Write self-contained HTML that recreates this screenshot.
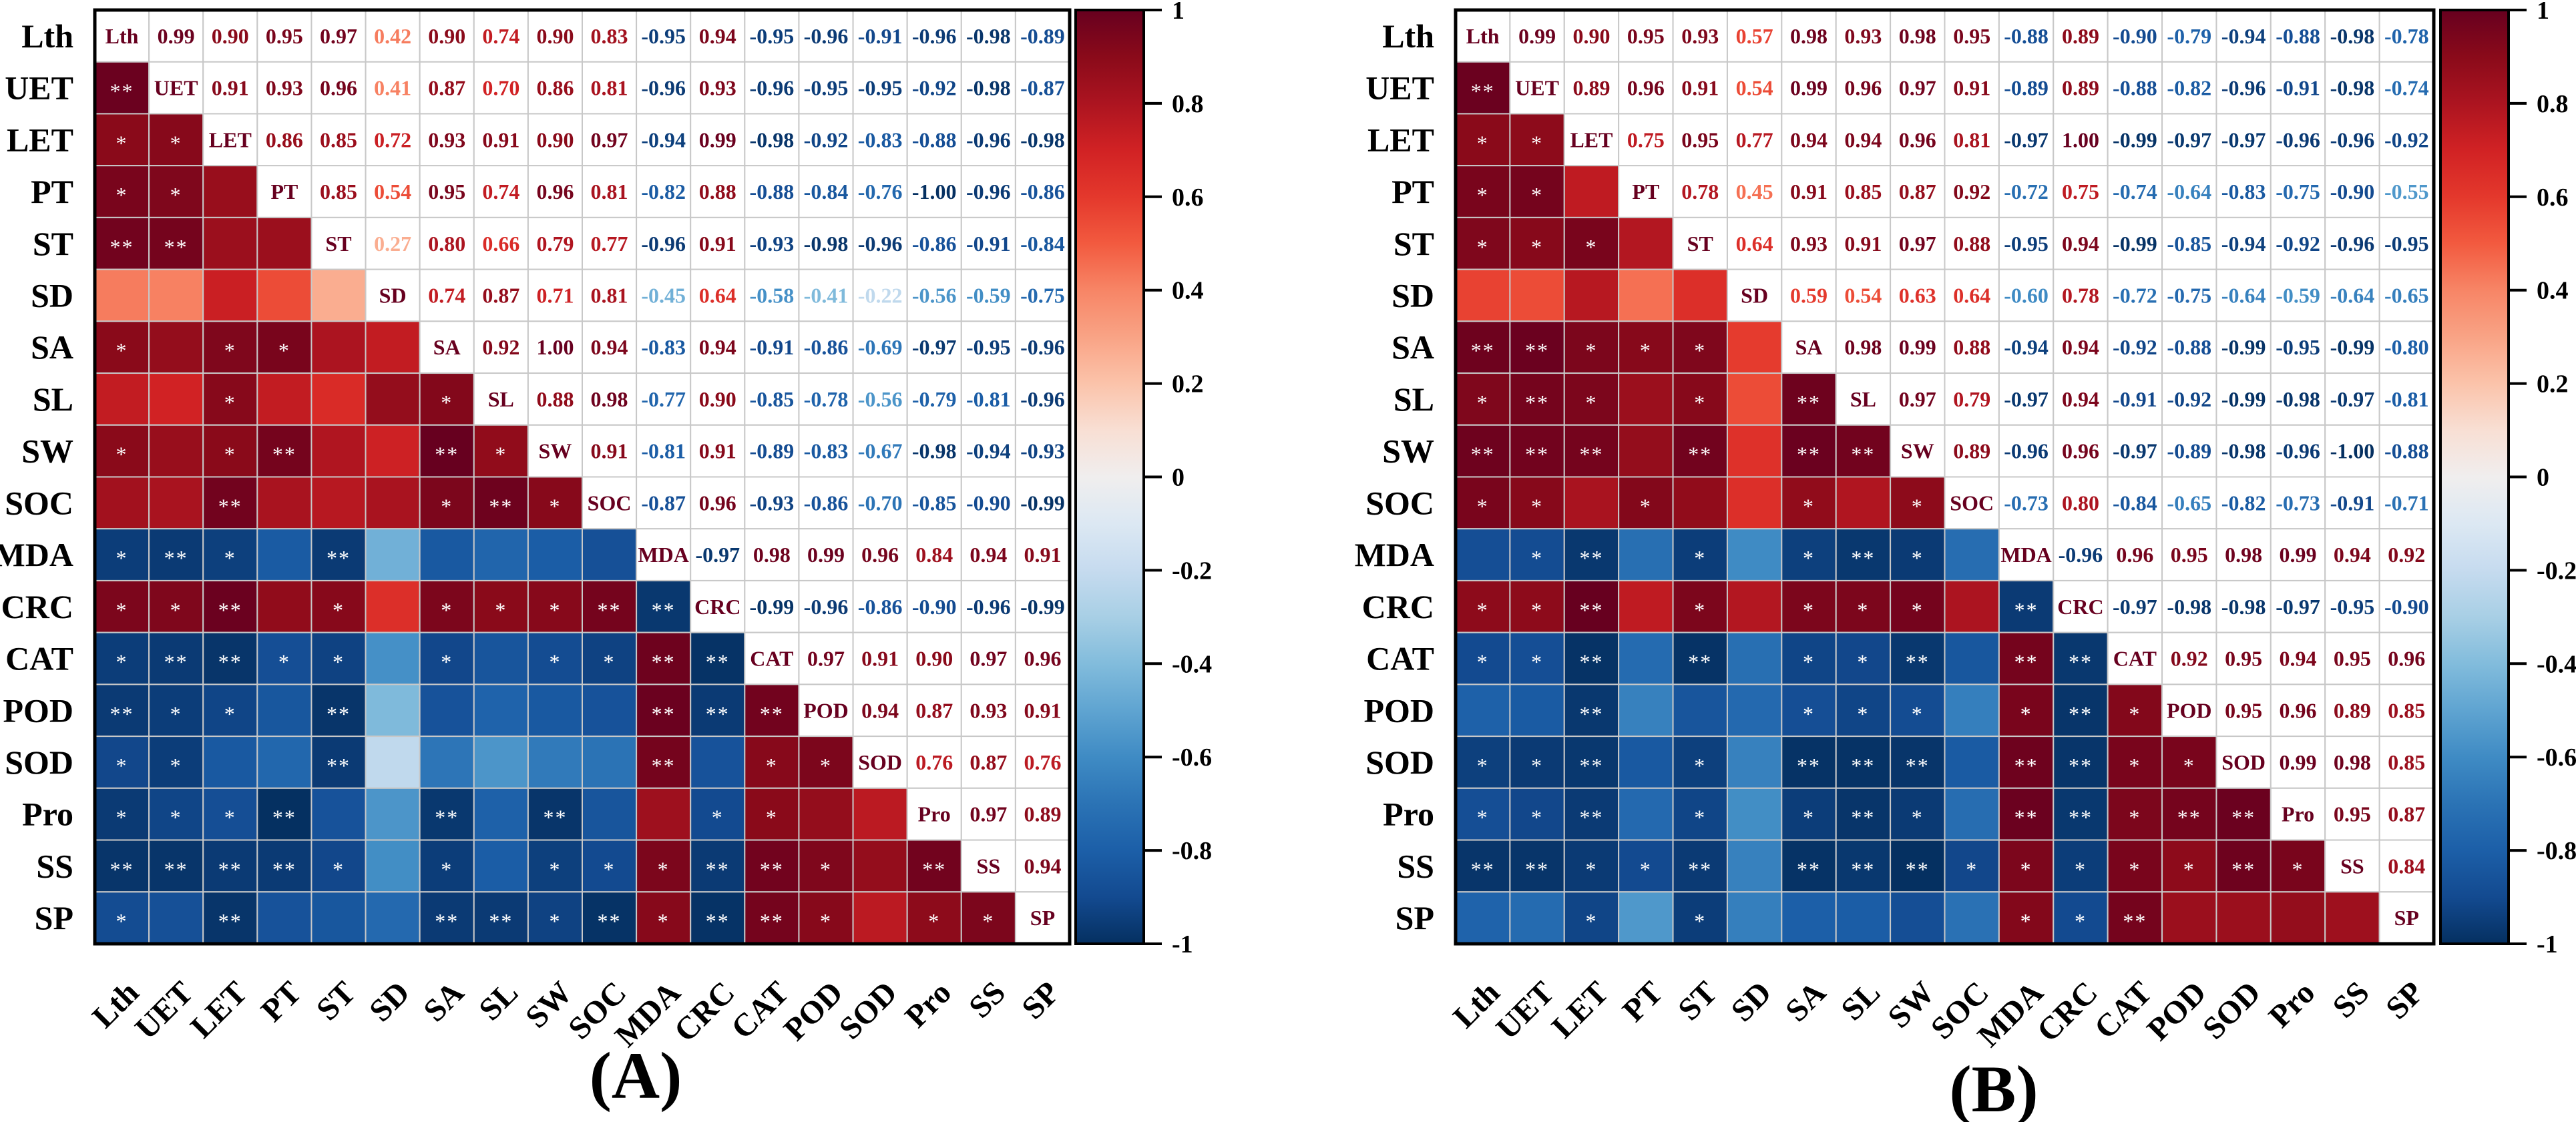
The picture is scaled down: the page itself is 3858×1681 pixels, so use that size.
<!DOCTYPE html>
<html><head><meta charset="utf-8"><style>
html,body{margin:0;padding:0;background:#fff;}
svg{display:block;}
svg text{font-family:"Liberation Serif","DejaVu Serif","Noto Serif CJK SC",serif;font-weight:bold;}
</style></head><body>
<svg id="chart" xmlns="http://www.w3.org/2000/svg" width="3858" height="1681" viewBox="0 0 3858 1681"></svg>
<script>
const variables = ["Lth","UET","LET","PT","ST","SD","SA","SL","SW","SOC","MDA","CRC","CAT","POD","SOD","Pro","SS","SP"];
const upperA = [
 [0.99,0.90,0.95,0.97,0.42,0.90,0.74,0.90,0.83,-0.95,0.94,-0.95,-0.96,-0.91,-0.96,-0.98,-0.89],
 [0.91,0.93,0.96,0.41,0.87,0.70,0.86,0.81,-0.96,0.93,-0.96,-0.95,-0.95,-0.92,-0.98,-0.87],
 [0.86,0.85,0.72,0.93,0.91,0.90,0.97,-0.94,0.99,-0.98,-0.92,-0.83,-0.88,-0.96,-0.98],
 [0.85,0.54,0.95,0.74,0.96,0.81,-0.82,0.88,-0.88,-0.84,-0.76,-1.00,-0.96,-0.86],
 [0.27,0.80,0.66,0.79,0.77,-0.96,0.91,-0.93,-0.98,-0.96,-0.86,-0.91,-0.84],
 [0.74,0.87,0.71,0.81,-0.45,0.64,-0.58,-0.41,-0.22,-0.56,-0.59,-0.75],
 [0.92,1.00,0.94,-0.83,0.94,-0.91,-0.86,-0.69,-0.97,-0.95,-0.96],
 [0.88,0.98,-0.77,0.90,-0.85,-0.78,-0.56,-0.79,-0.81,-0.96],
 [0.91,-0.81,0.91,-0.89,-0.83,-0.67,-0.98,-0.94,-0.93],
 [-0.87,0.96,-0.93,-0.86,-0.70,-0.85,-0.90,-0.99],
 [-0.97,0.98,0.99,0.96,0.84,0.94,0.91],
 [-0.99,-0.96,-0.86,-0.90,-0.96,-0.99],
 [0.97,0.91,0.90,0.97,0.96],
 [0.94,0.87,0.93,0.91],
 [0.76,0.87,0.76],
 [0.97,0.89],
 [0.94],
 []
];
const starsA = [
 [],
 ["**"],
 ["*","*"],
 ["*","*",""],
 ["**","**","",""],
 ["","","","",""],
 ["*","","*","*","",""],
 ["","","*","","","","*"],
 ["*","","*","**","","","**","*"],
 ["","","**","","","","*","**","*"],
 ["*","**","*","","**","","","","",""],
 ["*","*","**","","*","","*","*","*","**","**"],
 ["*","**","**","*","*","","*","","*","*","**","**"],
 ["**","*","*","","**","","","","","","**","**","**"],
 ["*","*","","","**","","","","","","**","","*","*"],
 ["*","*","*","**","","","**","","**","","","*","*","",""],
 ["**","**","**","**","*","","*","","*","*","*","**","**","*","","**"],
 ["*","","**","","","","**","**","*","**","*","**","**","*","","*","*"]
];
const upperB = [
 [0.99,0.90,0.95,0.93,0.57,0.98,0.93,0.98,0.95,-0.88,0.89,-0.90,-0.79,-0.94,-0.88,-0.98,-0.78],
 [0.89,0.96,0.91,0.54,0.99,0.96,0.97,0.91,-0.89,0.89,-0.88,-0.82,-0.96,-0.91,-0.98,-0.74],
 [0.75,0.95,0.77,0.94,0.94,0.96,0.81,-0.97,1.00,-0.99,-0.97,-0.97,-0.96,-0.96,-0.92],
 [0.78,0.45,0.91,0.85,0.87,0.92,-0.72,0.75,-0.74,-0.64,-0.83,-0.75,-0.90,-0.55],
 [0.64,0.93,0.91,0.97,0.88,-0.95,0.94,-0.99,-0.85,-0.94,-0.92,-0.96,-0.95],
 [0.59,0.54,0.63,0.64,-0.60,0.78,-0.72,-0.75,-0.64,-0.59,-0.64,-0.65],
 [0.98,0.99,0.88,-0.94,0.94,-0.92,-0.88,-0.99,-0.95,-0.99,-0.80],
 [0.97,0.79,-0.97,0.94,-0.91,-0.92,-0.99,-0.98,-0.97,-0.81],
 [0.89,-0.96,0.96,-0.97,-0.89,-0.98,-0.96,-1.00,-0.88],
 [-0.73,0.80,-0.84,-0.65,-0.82,-0.73,-0.91,-0.71],
 [-0.96,0.96,0.95,0.98,0.99,0.94,0.92],
 [-0.97,-0.98,-0.98,-0.97,-0.95,-0.90],
 [0.92,0.95,0.94,0.95,0.96],
 [0.95,0.96,0.89,0.85],
 [0.99,0.98,0.85],
 [0.95,0.87],
 [0.84],
 []
];
const starsB = [
 [],
 ["**"],
 ["*","*"],
 ["*","*",""],
 ["*","*","*",""],
 ["","","","",""],
 ["**","**","*","*","*",""],
 ["*","**","*","","*","","**"],
 ["**","**","**","","**","","**","**"],
 ["*","*","","*","","","*","","*"],
 ["","*","**","","*","","*","**","*",""],
 ["*","*","**","","*","","*","*","*","","**"],
 ["*","*","**","","**","","*","*","**","","**","**"],
 ["","","**","","","","*","*","*","","*","**","*"],
 ["*","*","**","","*","","**","**","**","","**","**","*","*"],
 ["*","*","**","","*","","*","**","*","","**","**","*","**","**"],
 ["**","**","*","*","**","","**","**","**","*","*","*","*","*","**","*"],
 ["","","*","","*","","","","","","*","*","**","","","",""]
];
const colorbarTicks = [1,0.8,0.6,0.4,0.2,0,-0.2,-0.4,-0.6,-0.8,-1];
const colorbarTickLabels = ["1","0.8","0.6","0.4","0.2","0","-0.2","-0.4","-0.6","-0.8","-1"];

const NS = "http://www.w3.org/2000/svg";
const FONTSTYLE = "font-family:'Liberation Serif','DejaVu Serif','Noto Serif CJK SC',serif;";
const svg = document.getElementById("chart");
const stops = [[-1,"#053061"],[-0.9,"#134a90"],[-0.8,"#1c5fa8"],[-0.7,"#2b73b5"],[-0.6,"#3f8bc4"],[-0.5,"#5fa4d1"],[-0.4,"#82bcdc"],[-0.3,"#a8cfe5"],[-0.2,"#c6dbef"],[-0.1,"#dce8f3"],[0,"#f0eeee"],[0.1,"#f8dfd4"],[0.2,"#fbc3aa"],[0.3,"#f9a385"],[0.4,"#f78566"],[0.5,"#f25a3f"],[0.6,"#e4382c"],[0.7,"#d12224"],[0.8,"#ac1420"],[0.9,"#8a0a1a"],[1,"#67001f"]];
function hex(h){return [parseInt(h.substr(1,2),16),parseInt(h.substr(3,2),16),parseInt(h.substr(5,2),16)];}
function colorOf(v){
  v=Math.max(-1,Math.min(1,v));
  for(let k=0;k<stops.length-1;k++){
    if(v<=stops[k+1][0]){
      const t=(v-stops[k][0])/(stops[k+1][0]-stops[k][0]);
      const a=hex(stops[k][1]),b=hex(stops[k+1][1]);
      return "rgb("+a.map((x,i)=>Math.round(x+(b[i]-x)*t)).join(",")+")";
    }
  }
  return stops[stops.length-1][1];
}
function mk(tag,attrs,parent){const e=document.createElementNS(NS,tag);for(const k in attrs)e.setAttribute(k,attrs[k]);if(tag==="text"){e.setAttribute("style",FONTSTYLE+"font-weight:"+(attrs["font-weight"]||"bold")+";");}(parent||svg).appendChild(e);return e;}
function fullMatrix(up){
  const n=variables.length,M=[];
  for(let i=0;i<n;i++){M.push([]);for(let j=0;j<n;j++){
    if(i===j)M[i].push(1);else if(i<j)M[i].push(up[i][j-i-1]);else M[i].push(up[j][i-j-1]);}}
  return M;
}

const gradDefs = mk("defs",{});
const grad = mk("linearGradient",{id:"cbgrad",x1:"0",y1:"0",x2:"0",y2:"1"},gradDefs);
for(let k=stops.length-1;k>=0;k--){
  mk("stop",{offset:((1-stops[k][0])/2*100)+"%","stop-color":stops[k][1]},grad);
}

function drawPanel(up,stars,cfg){
  const n=variables.length;
  const M=fullMatrix(up);
  const cw=(cfg.right-cfg.left)/n, ch=(cfg.bottom-cfg.top)/n;
  const xPos=j=>cfg.left+j*cw, yPos=i=>cfg.top+i*ch;
  const g=mk("g",{});
  
  
  for(let i=0;i<n;i++){
    for(let j=0;j<n;j++){
      const v=M[i][j];
      const cell=mk("rect",{x:xPos(j),y:yPos(i),width:cw,height:ch,fill:j<i?colorOf(v):"#ffffff",stroke:"#c8c8c8","stroke-width":2},g);
      
      
      const cx=xPos(j)+cw/2, cy=yPos(i)+ch/2;
      if(j>i){
        const t=mk("text",{x:cx,y:cy+11,"text-anchor":"middle","font-size":32,fill:colorOf(v)},g);
        t.textContent=v.toFixed(2);
        
        
      } else if(j===i){
        const t=mk("text",{x:cx,y:cy+11,"text-anchor":"middle","font-size":32,fill:colorOf(1)},g);
        t.textContent=variables[i];
        
        
      } else if(stars[i][j]){
        const t=mk("text",{x:cx,y:cy+16,"text-anchor":"middle","font-size":32,fill:"#ffffff","font-weight":"normal","letter-spacing":2},g);
        t.textContent=stars[i][j];
        
        
      }
    }
    const rl=mk("text",{x:cfg.left-32,y:yPos(i)+ch/2+17,"text-anchor":"end","font-size":50,fill:"#000"},g);
    rl.textContent=variables[i];
    
    
    const xl=mk("text",{"text-anchor":"end","font-size":48,fill:"#000",transform:"translate("+(xPos(i)+cw/2+28)+","+(cfg.bottom+76)+") rotate(-45)"},g);
    xl.textContent=variables[i];
    
    
  }
  const border=mk("rect",{x:cfg.left,y:cfg.top,width:cfg.right-cfg.left,height:cfg.bottom-cfg.top,fill:"none",stroke:"#000","stroke-width":5},g);
  
  
  const cb=mk("rect",{x:cfg.cbx,y:cfg.top,width:cfg.cbw,height:cfg.bottom-cfg.top,fill:"url(#cbgrad)",stroke:"#000","stroke-width":4},g);
  
  
  const cbY=v=>cfg.top+(1-v)/2*(cfg.bottom-cfg.top);
  colorbarTicks.forEach((v,k)=>{
    const y=cbY(v);
    const tk=mk("line",{x1:cfg.cbx+cfg.cbw,x2:cfg.cbx+cfg.cbw+27,y1:y,y2:y,stroke:"#000","stroke-width":4},g);
    
    
    const tl=mk("text",{x:cfg.cbx+cfg.cbw+42,y:y+13,"font-size":38,fill:"#000"},g);
    tl.textContent=colorbarTickLabels[k];
    
    
  });
  const pl=mk("text",{x:cfg.labelX,y:cfg.labelY,"text-anchor":"middle","font-size":100,fill:"#000"},g);
  pl.textContent=cfg.label;
  
  
}
drawPanel(upperA,starsA,{name:"heatmap-a",left:142,right:1602,top:15,bottom:1414,cbx:1611,cbw:102,label:"(A)",labelX:952,labelY:1645});
drawPanel(upperB,starsB,{name:"heatmap-b",left:2180,right:3645,top:15,bottom:1414,cbx:3655,cbw:102,label:"(B)",labelX:2986,labelY:1665});
</script>
</body></html>
